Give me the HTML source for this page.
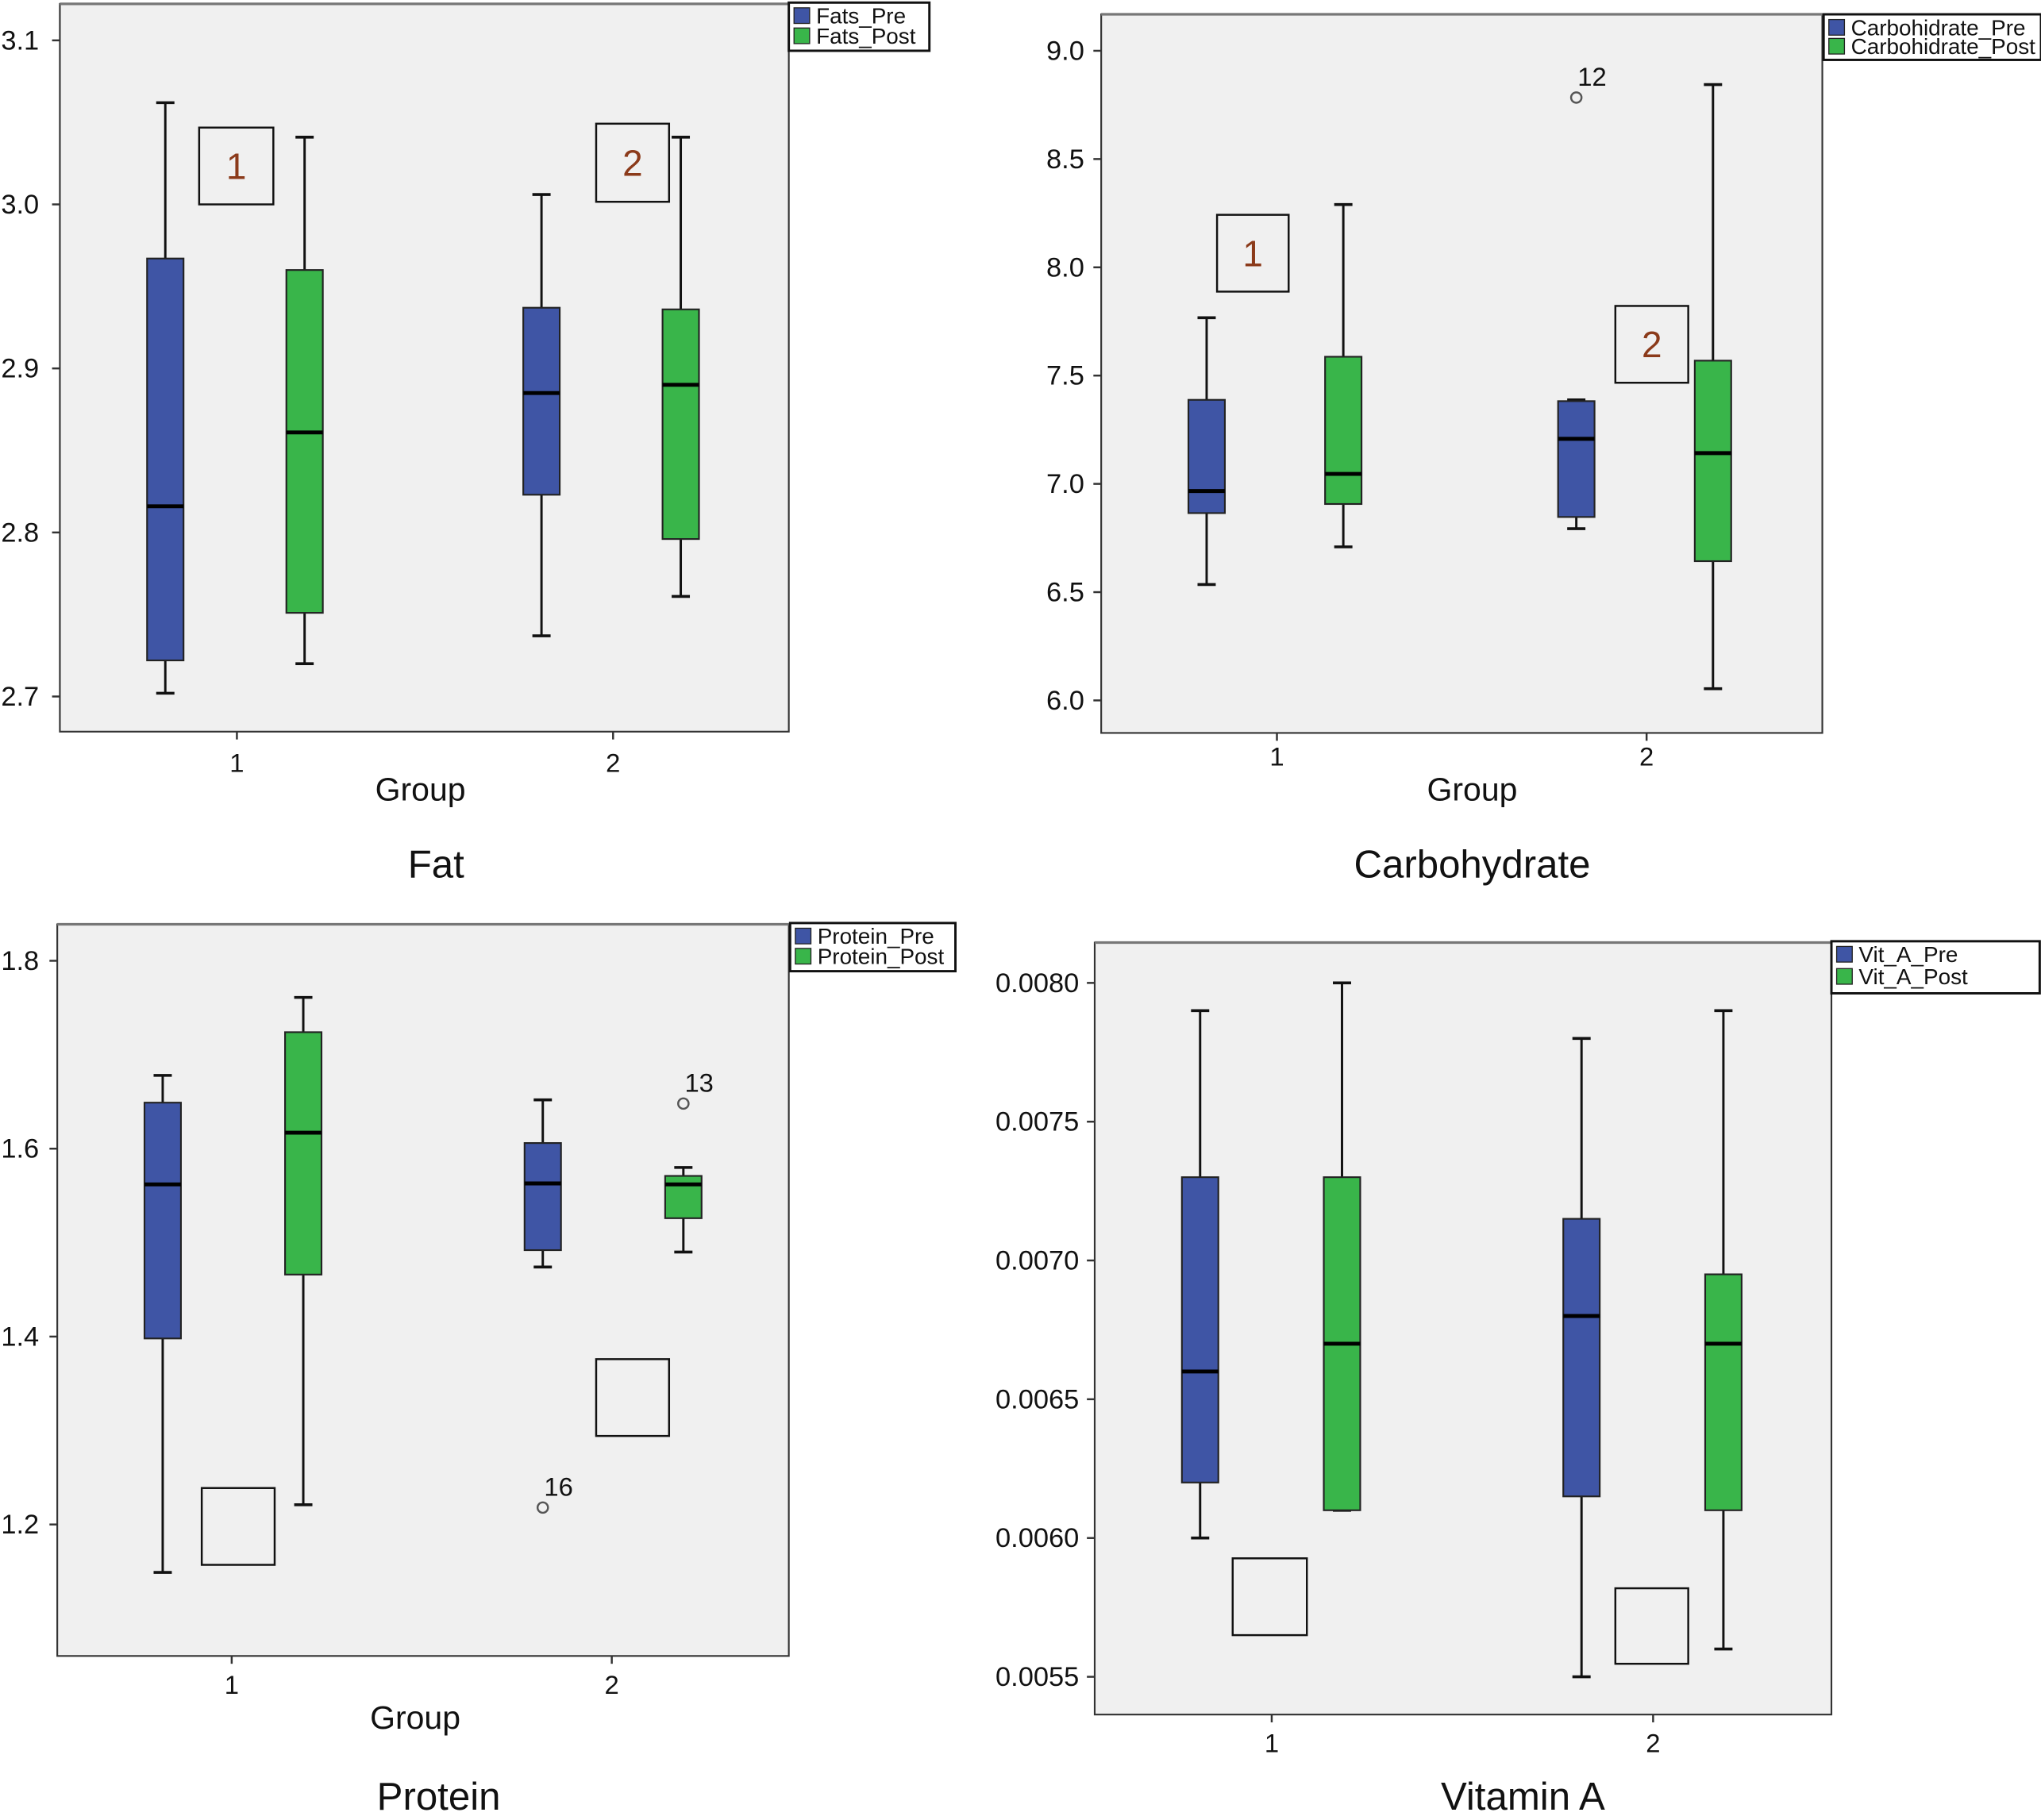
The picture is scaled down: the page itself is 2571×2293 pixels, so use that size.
<!DOCTYPE html>
<html><head><meta charset="utf-8"><style>
html,body{margin:0;padding:0;background:#fff;}
svg{display:block;}
text{font-family:"Liberation Sans",sans-serif;fill:#111;}
</style></head><body>
<svg id="chart" width="2571" height="2293" viewBox="0 0 1568 1398" preserveAspectRatio="none" xmlns="http://www.w3.org/2000/svg"></svg>
<script>
// ---- data ----
const groups = ["1","2"];
const fatTicks = [2.7,2.8,2.9,3.0,3.1];
const fatPre  = [[2.702,2.722,2.816,2.967,3.062],[2.737,2.823,2.885,2.937,3.006]];
const fatPost = [[2.720,2.751,2.861,2.960,3.041],[2.761,2.796,2.890,2.936,3.041]];
const carbTicks = [6.0,6.5,7.0,7.5,8.0,8.5,9.0];
const carbPre  = [[6.535,6.865,6.967,7.388,7.767],[6.793,6.847,7.208,7.382,7.388]];
const carbPost = [[6.709,6.907,7.046,7.587,8.29],[6.054,6.643,7.142,7.569,8.844]];
const carbOutliers = [{g:1,s:0,v:8.784,label:"12"}];
const protTicks = [1.2,1.4,1.6,1.8];
const protPre  = [[1.149,1.398,1.562,1.649,1.678],[1.474,1.492,1.563,1.606,1.652]];
const protPost = [[1.221,1.466,1.617,1.724,1.761],[1.490,1.526,1.562,1.571,1.580]];
const protOutliers = [{g:1,s:1,v:1.648,label:"13"},{g:1,s:0,v:1.218,label:"16"}];
const vitTicks = [0.0055,0.0060,0.0065,0.0070,0.0075,0.0080];
const vitPre  = [[0.0060,0.0062,0.0066,0.0073,0.0079],[0.0055,0.00615,0.0068,0.00715,0.0078]];
const vitPost = [[0.0061,0.0061,0.0067,0.0073,0.0080],[0.0056,0.0061,0.0067,0.00695,0.0079]];

const NS="http://www.w3.org/2000/svg";
const svg=document.getElementById('chart');
function mk(tag,attrs,parent){const e=document.createElementNS(NS,tag);for(const k in attrs)e.setAttribute(k,attrs[k]);(parent||svg).appendChild(e);return e;}
const BLUE="#3F55A5",GREEN="#39B54A";

function panel(cfg){
  const g=mk('g',{});
  
  
  const p=cfg.plot;
  const bg=mk('rect',{x:p.x0,y:p.y0,width:p.x1-p.x0,height:p.y1-p.y0,fill:"#F0F0F0",stroke:"#333","stroke-width":1.3},g);
  
  
  mk('line',{x1:p.x0,y1:p.y0,x2:p.x1,y2:p.y0,stroke:"#777","stroke-width":2},g);
  const yS=v=>cfg.ya+(v-cfg.va)*(cfg.yb-cfg.ya)/(cfg.vb-cfg.va);
  cfg.ticks.forEach(t=>{
    mk('line',{x1:p.x0-6,y1:yS(t),x2:p.x0,y2:yS(t),stroke:"#333","stroke-width":1.5},g);
    const tx=mk('text',{x:p.x0-cfg.tickGap,y:yS(t)+7,"font-size":21,"text-anchor":"end"},g);
    tx.textContent=t.toFixed(cfg.dec);
    
    
  });
  groups.forEach((gl,i)=>{
    const cx=cfg.gx[i];
    mk('line',{x1:cx,y1:p.y1,x2:cx,y2:p.y1+6,stroke:"#333","stroke-width":1.5},g);
    const tx=mk('text',{x:cx,y:cfg.xlabY,"font-size":20,"text-anchor":"middle"},g);
    tx.textContent=gl;
    
    
    [[cfg.pre,BLUE,cfg.off[0],'pre'],[cfg.post,GREEN,cfg.off[1],'post']].forEach(([d,col,off,nm])=>{
      const s=d[i],bx=cx+off,hw=14;
      const bg2=mk('g',{},g);
      
      
      mk('line',{x1:bx,y1:yS(s[0]),x2:bx,y2:yS(s[4]),stroke:"#111","stroke-width":1.8},bg2);
      mk('line',{x1:bx-7,y1:yS(s[0]),x2:bx+7,y2:yS(s[0]),stroke:"#111","stroke-width":2.2},bg2);
      mk('line',{x1:bx-7,y1:yS(s[4]),x2:bx+7,y2:yS(s[4]),stroke:"#111","stroke-width":2.2},bg2);
      mk('rect',{x:bx-hw,y:yS(s[3]),width:2*hw,height:yS(s[1])-yS(s[3]),fill:col,stroke:"#222","stroke-width":1.3},bg2);
      mk('line',{x1:bx-hw,y1:yS(s[2]),x2:bx+hw,y2:yS(s[2]),stroke:"#000","stroke-width":3},bg2);
    });
  });
  (cfg.outliers||[]).forEach(o=>{
    const bx=cfg.gx[o.g]+cfg.off[o.s];
    const c=mk('circle',{cx:bx,cy:yS(o.v),r:4,fill:"none",stroke:"#555","stroke-width":1.5},g);
    
    
    const t=mk('text',{x:bx+1,y:yS(o.v)-9,"font-size":20},g);t.textContent=o.label;
    
    
  });
  cfg.ann.forEach(a=>{
    const r=mk('rect',{x:a[0],y:a[1],width:a[2],height:a[3],fill:"none",stroke:"#111","stroke-width":1.5},g);
    
    
    if(a[4]){const t=mk('text',{x:a[0]+a[2]/2,y:a[1]+a[3]/2+10,"font-size":28,"text-anchor":"middle",style:"fill:#8B3A1A"},g);t.textContent=a[4];
      
      }
  });
  const L=cfg.leg;
  const lg=mk('g',{},g);
  
  
  mk('rect',{x:L[0],y:L[1],width:L[2],height:L[3],fill:"#fff",stroke:"#111","stroke-width":1.8},lg);
  [[BLUE,cfg.legNames[0]],[GREEN,cfg.legNames[1]]].forEach(([col,nm],k)=>{
    const yy=L[1]+4+k*(L[3]-6)/2;
    mk('rect',{x:L[0]+4,y:yy,width:12,height:12,fill:col,stroke:"#222","stroke-width":0.8},lg);
    const t=mk('text',{x:L[0]+21,y:yy+12,"font-size":17},lg);t.textContent=nm;
    
    
  });
  if(cfg.xTitle){const t=mk('text',{x:cfg.xTitle[0],y:cfg.xTitle[1],"font-size":25,"text-anchor":"middle"},g);t.textContent="Group";
    
    }
  const tt=mk('text',{x:cfg.title[0],y:cfg.title[1],"font-size":30,"text-anchor":"middle"},g);tt.textContent=cfg.title[2];
  
  
}

panel({name:'fat',plot:{x0:46,y0:3,x1:606,y1:562},ya:535,va:2.7,yb:31,vb:3.1,ticks:fatTicks,dec:1,tickGap:16,
  gx:[182,471],off:[-55,52],pre:fatPre,post:fatPost,xlabY:593,
  ann:[[153,98,57,59,"1"],[458,95,56,60,"2"]],leg:[606,2,108,37],legNames:["Fats_Pre","Fats_Post"],
  xTitle:[323,615],title:[335,674,"Fat"]});
panel({name:'carbohydrate',plot:{x0:846,y0:11,x1:1400,y1:563},ya:538,va:6.0,yb:39,vb:9.0,ticks:carbTicks,dec:1,tickGap:13,
  gx:[981,1265],off:[-54,51],pre:carbPre,post:carbPost,outliers:carbOutliers,xlabY:588,
  ann:[[935,165,55,59,"1"],[1241,235,56,59,"2"]],leg:[1401,11,167,35],legNames:["Carbohidrate_Pre","Carbohidrate_Post"],
  xTitle:[1131,615],title:[1131,674,"Carbohydrate"]});
panel({name:'protein',plot:{x0:44,y0:710,x1:606,y1:1272},ya:1171,va:1.2,yb:738,vb:1.8,ticks:protTicks,dec:1,tickGap:14,
  gx:[178,470],off:[-53,55],pre:protPre,post:protPost,outliers:protOutliers,xlabY:1301,
  ann:[[155,1143,56,59,""],[458,1044,56,59,""]],leg:[607,709,127,37],legNames:["Protein_Pre","Protein_Post"],
  xTitle:[319,1328],title:[337,1390,"Protein"]});
panel({name:'vitamin-a',plot:{x0:841,y0:724,x1:1407,y1:1317},ya:1288,va:0.0055,yb:755,vb:0.0080,ticks:vitTicks,dec:4,tickGap:12,
  gx:[977,1270],off:[-55,54],pre:vitPre,post:vitPost,xlabY:1346,
  ann:[[947,1197,57,59,""],[1241,1220,56,58,""]],leg:[1407,723,160,40],legNames:["Vit_A_Pre","Vit_A_Post"],
  title:[1170,1390,"Vitamin A"]});
</script>
</body></html>
